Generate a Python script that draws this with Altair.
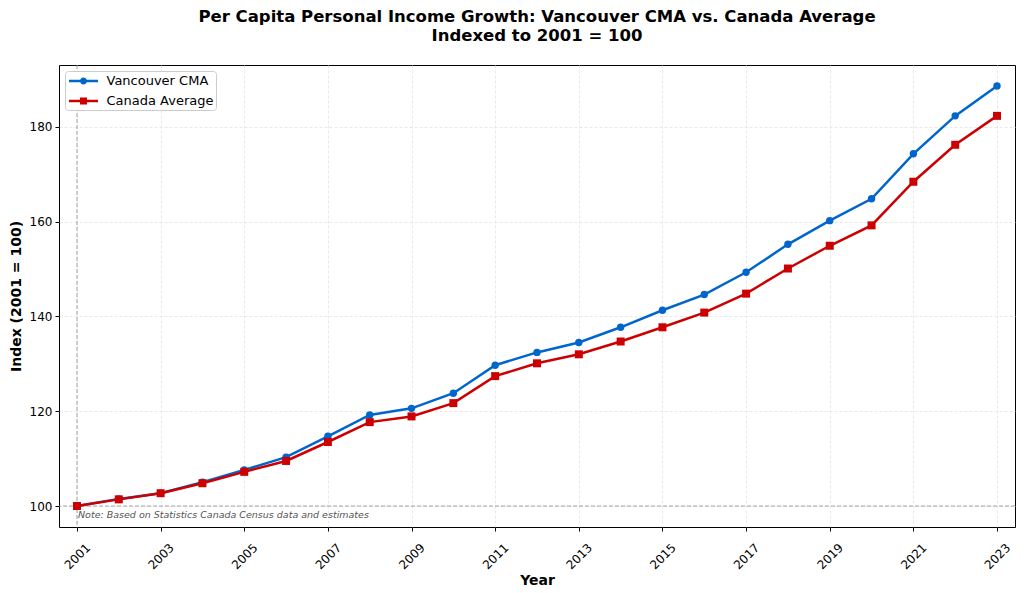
import altair as alt
import pandas as pd

years = list(range(2001, 2024))
vancouver = [100.0, 101.5, 102.7, 105.0, 107.6, 110.3, 114.7, 119.2, 120.6, 123.8,
             129.7, 132.4, 134.5, 137.7, 141.3, 144.6, 149.3, 155.2, 160.2, 164.8,
             174.3, 182.3, 188.6]
canada = [100.0, 101.4, 102.7, 104.8, 107.2, 109.5, 113.5, 117.7, 118.9, 121.7,
          127.4, 130.1, 132.0, 134.7, 137.7, 140.8, 144.8, 150.1, 154.9, 159.2,
          168.4, 176.2, 182.3]
series_names = ["Vancouver CMA", "Canada Average"]
series_colors = ["#0066CC", "#CC0000"]
series_shapes = ["circle", "square"]
series_sizes = [55, 64]
x_ticks = list(range(2001, 2024, 2))
y_ticks = [100, 120, 140, 160, 180]
title_lines = ["Per Capita Personal Income Growth: Vancouver CMA vs. Canada Average",
               "Indexed to 2001 = 100"]
note_text = "Note: Based on Statistics Canada Census data and estimates"
base_year = 2001
base_index = 100

rows = []
for name, vals, col, shp, sz in zip(series_names, [vancouver, canada], series_colors,
                                    series_shapes, series_sizes):
    for y, v in zip(years, vals):
        rows.append({"Year": y, "Index": v, "Series": name, "col": col, "shp": shp, "sz": sz})
df = pd.DataFrame(rows)

FONT = "DejaVu Sans"

# custom legend symbols: line + marker
leg_circle = ("M-1.8125,-0.156H-0.3V0.156H-1.8125Z M0.3,-0.156H1.8125V0.156H0.3Z "
              "M0.44,0A0.44,0.44 0 1 1 -0.44,0A0.44,0.44 0 1 1 0.44,0Z")
leg_square = ("M-1.8125,-0.156H1.8125V0.156H-1.8125Z M-0.44,-0.44H0.44V0.44H-0.44Z")

xscale = alt.Scale(domain=[2000.57, 2023.43], nice=False, zero=False)
yscale = alt.Scale(domain=[95.57, 193.03], nice=False, zero=False)

xaxis = alt.Axis(values=x_ticks, format="d", title="Year", labelAngle=-45,
                 labelAlign="center", labelBaseline="middle", labelPadding=25,
                 tickSize=4, titlePadding=2)
yaxis = alt.Axis(values=y_ticks, title="Index (2001 = 100)", tickSize=4,
                 labelPadding=3, titlePadding=5.5)

base = alt.Chart(df)

lines = base.mark_line(strokeWidth=2.5).encode(
    x=alt.X("Year:Q", scale=xscale, axis=xaxis),
    y=alt.Y("Index:Q", scale=yscale, axis=yaxis),
    color=alt.Color("col:N", scale=None),
    detail="Series:N",
)

points = base.mark_point(filled=True, opacity=1).encode(
    x=alt.X("Year:Q", scale=xscale),
    y=alt.Y("Index:Q", scale=yscale),
    color=alt.Color("col:N", scale=None),
    shape=alt.Shape("shp:N", scale=None),
    size=alt.Size("sz:Q", scale=None),
)

legend_layer = base.transform_filter("false").mark_point(filled=True).encode(
    x=alt.X("Year:Q", scale=xscale),
    y=alt.Y("Index:Q", scale=yscale),
    color=alt.Color("Series:N",
                    scale=alt.Scale(domain=series_names, range=series_colors),
                    legend=alt.Legend(title=None, orient="top-left", offset=6)),
    shape=alt.Shape("Series:N",
                    scale=alt.Scale(domain=series_names, range=[leg_circle, leg_square]),
                    legend=alt.Legend(title=None, orient="top-left", offset=6)),
)

ref_df = pd.DataFrame({"Year": [base_year], "Index": [base_index]})
vrule = alt.Chart(ref_df).mark_rule(color="#808080", opacity=0.7, strokeWidth=1,
                                    strokeDash=[4, 2]).encode(
    x=alt.X("Year:Q", scale=xscale))
hrule = alt.Chart(ref_df).mark_rule(color="#808080", opacity=0.7, strokeWidth=1,
                                    strokeDash=[4, 2]).encode(
    y=alt.Y("Index:Q", scale=yscale))

note_df = pd.DataFrame({"note": [note_text]})
note = alt.Chart(note_df).mark_text(align="left", baseline="alphabetic", fontSize=9.5,
                                    fontStyle="italic", color="#555555", font=FONT).encode(
    x=alt.value(19), y=alt.value(453), text="note:N")

chart = alt.layer(vrule, hrule, lines, points, legend_layer, note).properties(
    width=956, height=462,
    autosize=alt.AutoSizeParams(type="none"),
    padding={"left": 51, "top": 57, "right": 1, "bottom": 60},
    title=alt.TitleParams(text=title_lines, fontSize=16.5, fontWeight="bold", font=FONT,
                          anchor="middle", color="#000", offset=20, lineHeight=19),
).configure_view(
    stroke="#000", strokeWidth=1
).configure_axis(
    domain=False, grid=True, gridColor="#e3e3e3", gridDash=[3, 2], gridWidth=0.8,
    labelFont=FONT, labelFontSize=12, labelColor="#000", tickColor="#000",
    titleFont=FONT, titleFontSize=14, titleFontWeight="bold", titleColor="#000",
).configure_legend(
    labelFont=FONT, labelFontSize=13, labelColor="#000",
    symbolSize=256, symbolStrokeWidth=0, symbolOffset=8.5, labelOffset=15,
    rowPadding=5, padding=2, strokeColor="#cccccc", fillColor="#ffffff",
    cornerRadius=3,
)

chart.save("out.html", embed_options={"renderer": "svg", "actions": False})
